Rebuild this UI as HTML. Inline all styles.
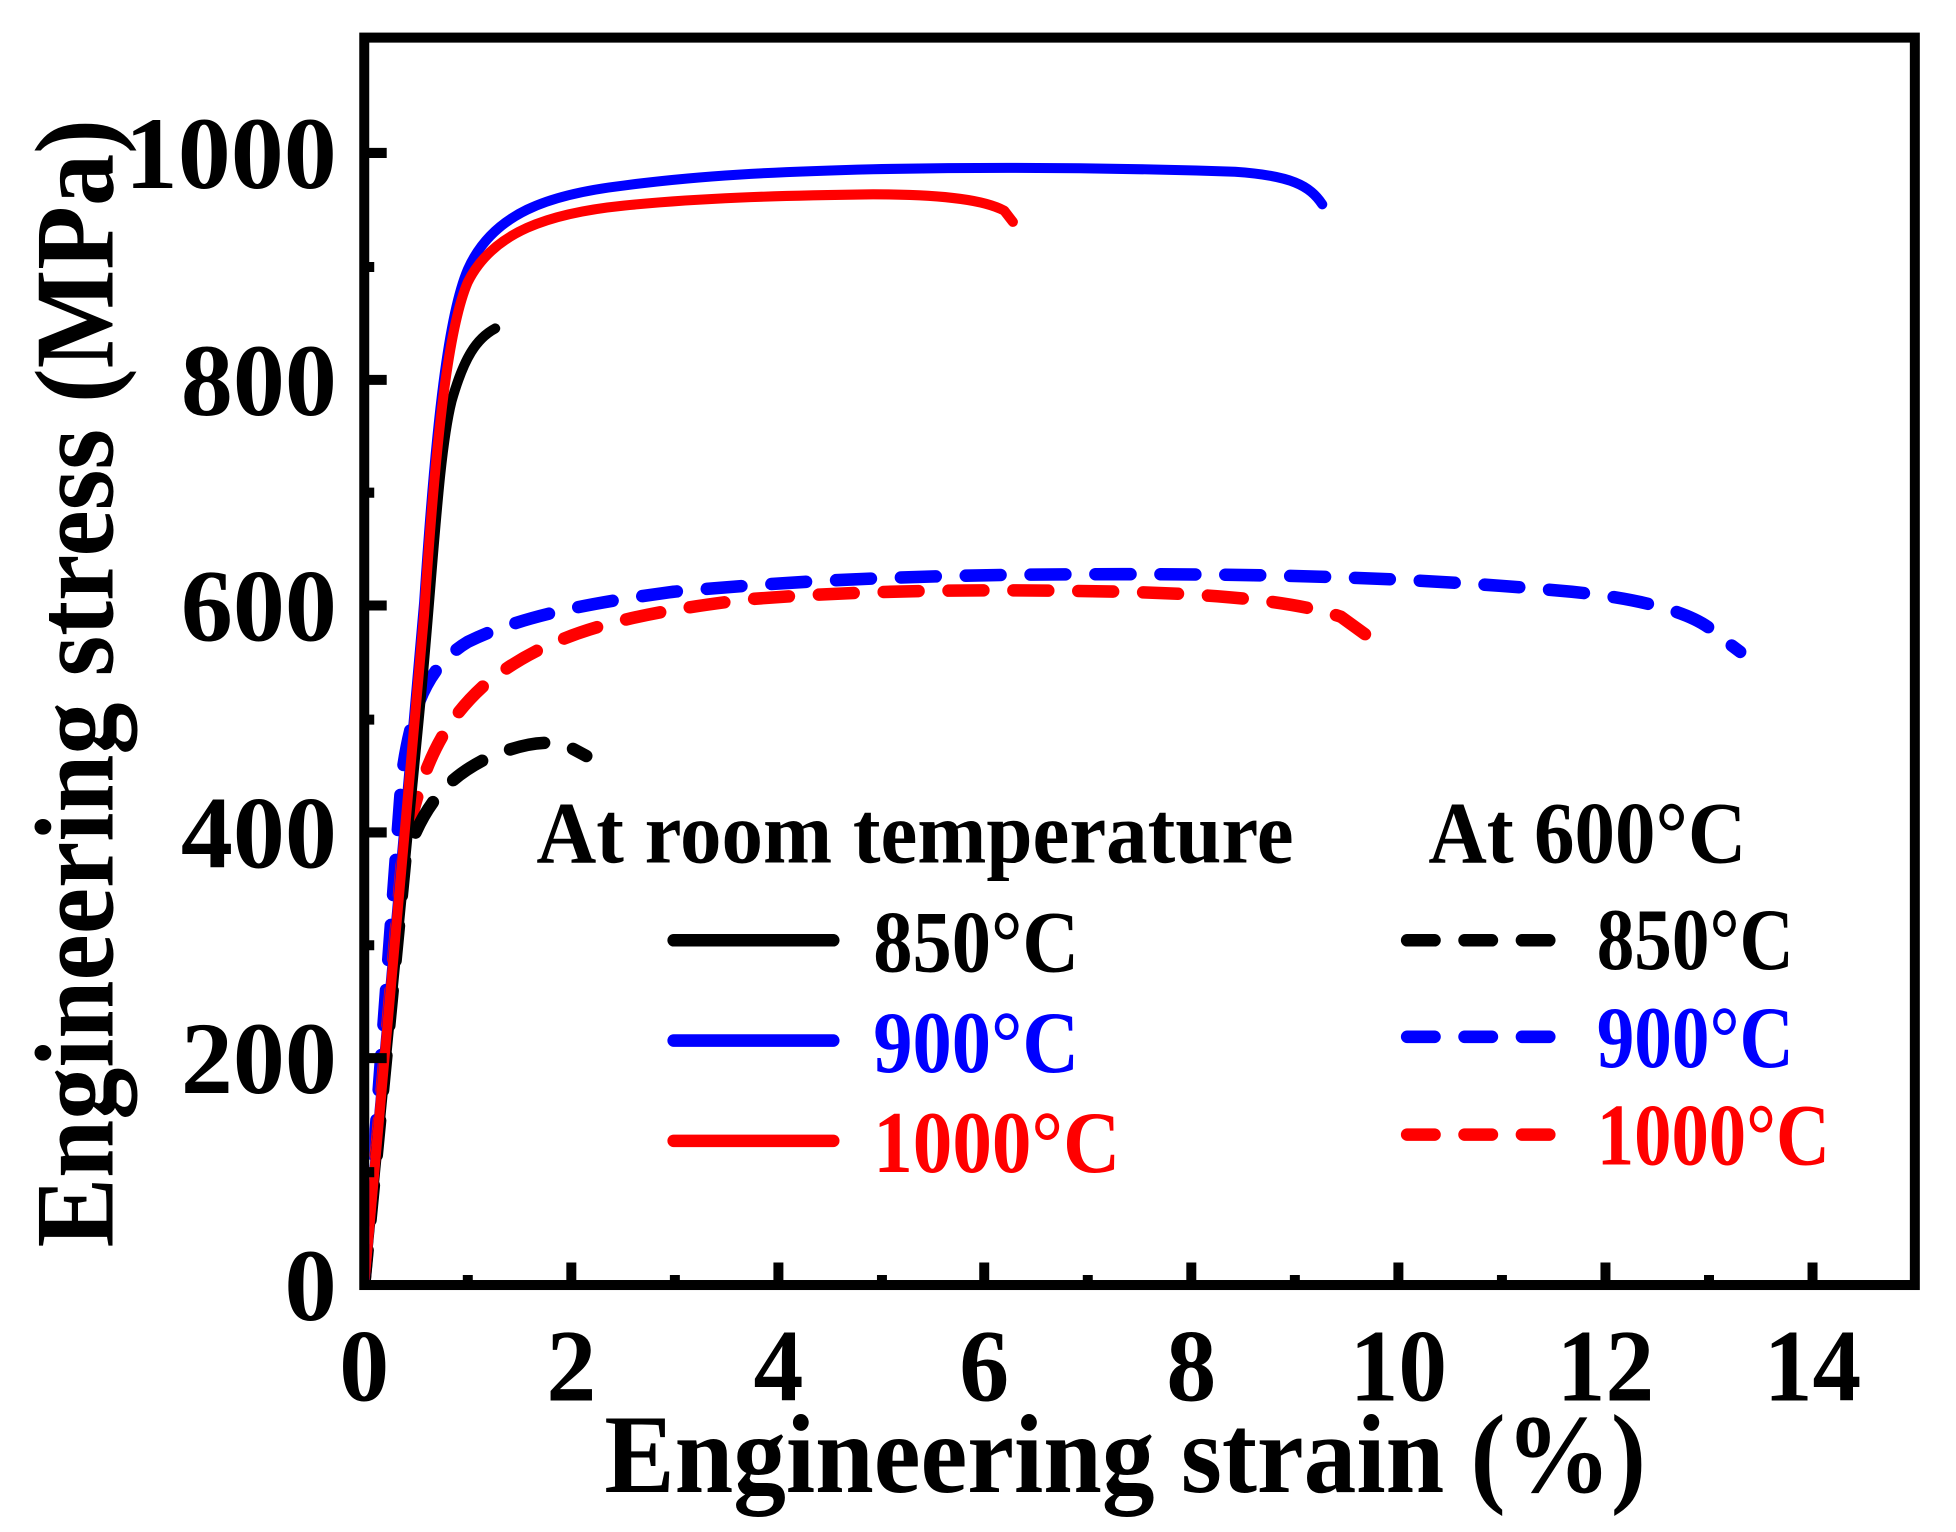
<!DOCTYPE html>
<html><head><style>
html,body{margin:0;padding:0;background:#fff;}
svg{display:block;}
text{font-family:"Liberation Serif",serif;font-weight:bold;}
</style></head><body>
<svg width="1956" height="1532" viewBox="0 0 1568 1222" preserveAspectRatio="none" xmlns="http://www.w3.org/2000/svg">
<rect width="1568" height="1222" fill="#fff"/>
<defs>
<clipPath id="c"><rect x="296" y="34" width="1235" height="987"/></clipPath>
</defs>
<g clip-path="url(#c)" fill="none" stroke-linecap="round" stroke-linejoin="round">
<path d="M292,1025 L322,620 C330,560 345,530 375,512 C420,490 480,480 540,472 C650,462 750,458 900,458 C1050,458 1150,462 1260,472 C1320,478 1360,490 1375,505 L1395,520" stroke="#0000ff" stroke-width="10" stroke-dasharray="28 24"/>
<path d="M292,1025 L322,690 C335,620 350,580 390,545 C440,505 500,490 600,478 C700,470 800,470 900,472 C980,474 1040,480 1075,492 L1100,510" stroke="#ff0000" stroke-width="10" stroke-dasharray="28 24"/>
<path d="M292,1025 L325,685 C340,640 360,620 390,605 C420,592 440,590 455,595 L470,603" stroke="#000" stroke-width="10" stroke-dasharray="28 24"/>
<path d="M292,1025 L338,550 C348,440 352,360 362,320 C372,285 382,270 397,262" stroke="#000" stroke-width="8"/>
<path d="M292,1025 L340,480 C350,330 360,250 375,215 C395,170 440,155 500,148 C560,140 620,137 700,135 C800,133 900,134 990,137 C1035,140 1050,148 1060,163" stroke="#0000ff" stroke-width="8"/>
<path d="M292,1025 L340,490 C350,340 360,260 375,225 C395,185 440,170 500,164 C560,158 620,156 700,155 C760,155 790,160 805,168 L812,177" stroke="#ff0000" stroke-width="8"/>
</g>
<rect x="292" y="30" width="1243" height="995" fill="none" stroke="#000" stroke-width="8"/>
<g stroke="#000" stroke-width="8">
<path d="M458,1025V1007 M624,1025V1007 M789,1025V1007 M955,1025V1007 M1121,1025V1007 M1287,1025V1007 M1453,1025V1007"/>
<path d="M375,1025V1017 M541,1025V1017 M707,1025V1017 M872,1025V1017 M1038,1025V1017 M1204,1025V1017 M1370,1025V1017"/>
<path d="M292,844H310 M292,664H310 M292,483H310 M292,303H310 M292,122H310"/>
<path d="M292,935H300 M292,754H300 M292,574H300 M292,393H300 M292,213H300"/>
</g>
<g font-size="82" text-anchor="end" lengthAdjust="spacingAndGlyphs">
<text x="270" y="1053" textLength="42" lengthAdjust="spacingAndGlyphs">0</text>
<text x="270" y="872" textLength="125" lengthAdjust="spacingAndGlyphs">200</text>
<text x="270" y="692" textLength="125" lengthAdjust="spacingAndGlyphs">400</text>
<text x="270" y="511" textLength="125" lengthAdjust="spacingAndGlyphs">600</text>
<text x="270" y="331" textLength="125" lengthAdjust="spacingAndGlyphs">800</text>
<text x="270" y="150" textLength="170" lengthAdjust="spacingAndGlyphs">1000</text>
</g>
<g font-size="82" text-anchor="middle">
<text x="292" y="1117" textLength="40" lengthAdjust="spacingAndGlyphs">0</text>
<text x="458" y="1117" textLength="40" lengthAdjust="spacingAndGlyphs">2</text>
<text x="624" y="1117" textLength="40" lengthAdjust="spacingAndGlyphs">4</text>
<text x="789" y="1117" textLength="40" lengthAdjust="spacingAndGlyphs">6</text>
<text x="955" y="1117" textLength="40" lengthAdjust="spacingAndGlyphs">8</text>
<text x="1121" y="1117" textLength="78" lengthAdjust="spacingAndGlyphs">10</text>
<text x="1287" y="1117" textLength="78" lengthAdjust="spacingAndGlyphs">12</text>
<text x="1453" y="1117" textLength="78" lengthAdjust="spacingAndGlyphs">14</text>
</g>
<text x="902" y="1190" font-size="90" text-anchor="middle" textLength="835" lengthAdjust="spacingAndGlyphs">Engineering strain (%)</text>
<text transform="translate(90,545) rotate(-90)" font-size="90" text-anchor="middle" textLength="900" lengthAdjust="spacingAndGlyphs">Engineering stress (MPa)</text>
<text x="430" y="688" font-size="70" textLength="607" lengthAdjust="spacingAndGlyphs">At room temperature</text>
<text x="1145" y="688" font-size="70" textLength="255" lengthAdjust="spacingAndGlyphs">At 600°C</text>
<g stroke-width="10" stroke-linecap="round">
<path d="M540,750H668" stroke="#000"/>
<path d="M540,830H668" stroke="#0000ff"/>
<path d="M540,910H668" stroke="#ff0000"/>
<path d="M1128,750H1248" stroke="#000" stroke-dasharray="22 24"/>
<path d="M1128,827H1248" stroke="#0000ff" stroke-dasharray="22 24"/>
<path d="M1128,905H1248" stroke="#ff0000" stroke-dasharray="22 24"/>
</g>
<g font-size="70">
<text x="700" y="775" fill="#000" textLength="165" lengthAdjust="spacingAndGlyphs">850°C</text>
<text x="700" y="855" fill="#0000ff" textLength="165" lengthAdjust="spacingAndGlyphs">900°C</text>
<text x="700" y="935" fill="#ff0000" textLength="198" lengthAdjust="spacingAndGlyphs">1000°C</text>
<text x="1280" y="773" fill="#000" textLength="158" lengthAdjust="spacingAndGlyphs">850°C</text>
<text x="1280" y="851" fill="#0000ff" textLength="158" lengthAdjust="spacingAndGlyphs">900°C</text>
<text x="1280" y="929" fill="#ff0000" textLength="187" lengthAdjust="spacingAndGlyphs">1000°C</text>
</g>
</svg>
</body></html>
